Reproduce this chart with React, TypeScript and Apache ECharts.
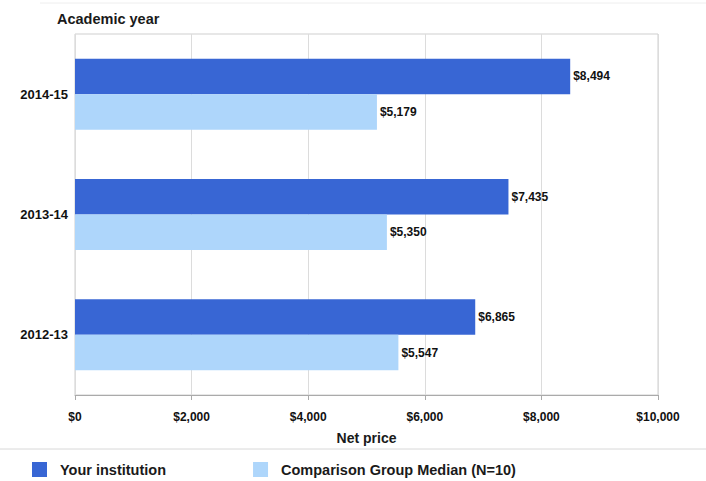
import React, { useEffect, useRef } from "react";
import * as echarts from "echarts";

const categories = ["2014-15", "2013-14", "2012-13"];
const yourInstitution = [8494, 7435, 6865];
const comparisonMedian = [5179, 5350, 5547];
const xTicks = [0, 2000, 4000, 6000, 8000, 10000];
const seriesNames = ["Your institution", "Comparison Group Median (N=10)"];

const FONT = "Arial, 'Liberation Sans', sans-serif";
const fmt = (v: number) => "$" + v.toLocaleString("en-US");

export default function App() {
  const ref = useRef<HTMLDivElement>(null);
  useEffect(() => {
    if (!ref.current) return;
    const chart = echarts.init(ref.current, null, { renderer: "svg" });
    const labelStyle = {
      show: true,
      position: "right" as const,
      distance: 3,
      color: "#111",
      fontSize: 12,
      fontWeight: "bold" as const,
      fontFamily: FONT,
      formatter: (p: any) => fmt(p.value),
    };
    chart.setOption({
      animation: false,
      backgroundColor: "#fff",
      textStyle: { fontFamily: FONT },
      grid: {
        left: 75,
        right: 48,
        top: 34,
        bottom: 86,
        show: true,
        borderColor: "#cfcfcf",
        borderWidth: 1,
        containLabel: false,
      },
      title: {
        text: "Academic year",
        left: 52,
        top: 6,
        textStyle: { fontSize: 14.5, fontWeight: "bold", color: "#1a1a1a", fontFamily: FONT },
      },
      legend: {
        left: 27,
        top: 457,
        itemWidth: 15,
        itemHeight: 15,
        itemGap: 87,
        icon: "rect",
        textStyle: { fontSize: 14.5, fontWeight: "bold", color: "#1a1a1a", fontFamily: FONT, padding: [0, 0, 0, 8] },
        data: seriesNames,
      },
      xAxis: {
        type: "value",
        min: 0,
        max: 10000,
        interval: 2000,
        name: "Net price",
        nameLocation: "middle",
        nameGap: 36,
        nameTextStyle: { fontSize: 14, fontWeight: "bold", color: "#1a1a1a", fontFamily: FONT },
        axisLine: { show: true, lineStyle: { color: "#aaa" } },
        axisTick: { show: true, lineStyle: { color: "#aaa" } },
        splitLine: { show: true, lineStyle: { color: "#dcdcdc" } },
        axisLabel: {
          fontSize: 12,
          fontWeight: "bold",
          color: "#111",
          margin: 16,
          customValues: xTicks,
          formatter: (v: number) => fmt(v),
        },
      },
      yAxis: {
        type: "category",
        inverse: true,
        data: categories,
        axisLine: { show: false },
        axisTick: { show: false },
        axisLabel: { fontSize: 13, fontWeight: "bold", color: "#111", margin: 7 },
      },
      series: [
        {
          name: seriesNames[0],
          type: "bar",
          data: yourInstitution,
          barCategoryGap: "41%",
          barGap: "0%",
          itemStyle: { color: "#3866d4" },
          label: labelStyle,
        },
        {
          name: seriesNames[1],
          type: "bar",
          data: comparisonMedian,
          itemStyle: { color: "#aed6fb" },
          label: labelStyle,
        },
      ],
      graphic: [
        { type: "line", shape: { x1: 0, y1: 449, x2: 706, y2: 449 }, style: { stroke: "#d8d8d8", lineWidth: 1 } },
        { type: "line", shape: { x1: 40, y1: 3, x2: 706, y2: 3 }, style: { stroke: "#eeeeee", lineWidth: 1 } },
      ],
    });
    return () => chart.dispose();
  }, []);
  return <div ref={ref} style={{ width: 706, height: 481, position: "absolute", left: 0, top: 0 }} />;
}
